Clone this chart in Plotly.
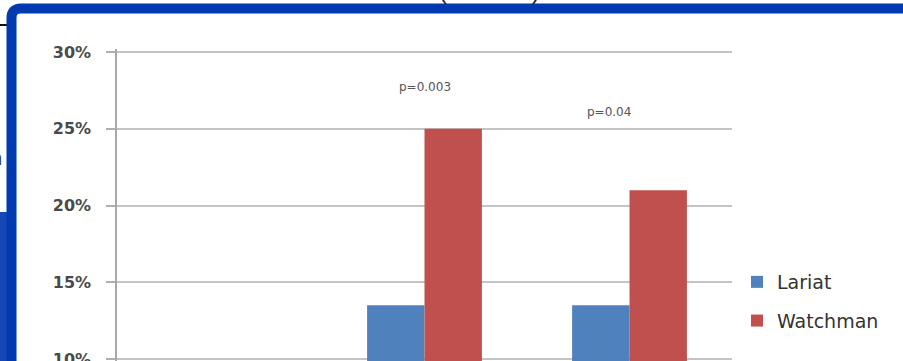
import plotly.graph_objects as go

# ---- data ----
categories = ["Category A", "Category B", "Category C"]
lariat = [None, 13.5, 13.5]
watchman = [None, 25.0, 21.0]
p_labels = ["p=0.003", "p=0.04"]
p_categories = ["Category B", "Category C"]
p_heights = [27.7, 26.1]
y_ticks = [10, 15, 20, 25, 30]
y_tick_text = ["10%", "15%", "20%", "25%", "30%"]

W, H = 903, 361
L, R, T, B = 117, 732, 49, 361
PX_PER_PCT = (359 - 52) / 20.0


def px(x):
    return (x - L) / (R - L)


def py(y):
    return (B - y) / (B - T)


fig = go.Figure()
fig.add_trace(go.Bar(name="Lariat", x=categories, y=lariat, marker_color="#4F81BD",
                     marker_line_width=0, legendgroup="a"))
fig.add_trace(go.Bar(name="Watchman", x=categories, y=watchman, marker_color="#C0504D",
                     marker_line_width=0, legendgroup="b"))

font_family = "DejaVu Sans"

annotations = []
shifts = [0, -21]
for lab, cat, h, s in zip(p_labels, p_categories, p_heights, shifts):
    annotations.append(dict(x=cat, y=h, xref="x", yref="y", text=lab, showarrow=False,
                            xshift=s, font=dict(family=font_family, size=12, color="#555555")))

# slide title fragment (mostly outside the window)
annotations.append(dict(x=px(490), y=py(6), xref="paper", yref="paper", text="(N = 279)",
                        showarrow=False, yanchor="bottom", font=dict(family="Liberation Sans", size=24, color="#222222")))
# slide text fragment on the left
annotations.append(dict(x=px(4), y=py(158), xref="paper", yref="paper", text="n",
                        showarrow=False, xanchor="right", font=dict(family="Liberation Sans", size=20, color="#333333")))

shapes = [
    # slide background panel lower left
    dict(type="rect", xref="paper", yref="paper", x0=px(-5), x1=px(14), y0=py(370), y1=py(212),
         fillcolor="#1647B5", line_width=0, layer="above"),
    # black rule at top-left
    dict(type="line", xref="paper", yref="paper", x0=px(-2), x1=px(8), y0=py(25), y1=py(25),
         line=dict(color="#111111", width=2), layer="above"),
    # blue frame
    dict(type="path", xref="paper", yref="paper",
         path=(f"M {px(11.5)},{py(380)} L {px(11.5)},{py(18)} "
               f"Q {px(11.5)},{py(8.5)} {px(21)},{py(8.5)} L {px(920)},{py(8.5)}"),
         line=dict(color="#0039B0", width=10), layer="above"),
]

y_lo = 10 - (B - 359) / PX_PER_PCT
y_hi = 30 + (52 - T) / PX_PER_PCT

fig.update_layout(
    width=W, height=H,
    margin=dict(l=L, r=W - R, t=T, b=0, autoexpand=False),
    paper_bgcolor="white", plot_bgcolor="white",
    barmode="group", bargap=0.44, bargroupgap=0,
    showlegend=True,
    legend=dict(x=px(737), y=py(263), xanchor="left", yanchor="top",
                font=dict(family=font_family, size=19, color="#333333"),
                tracegroupgap=11, bgcolor="rgba(0,0,0,0)"),
    xaxis=dict(showticklabels=False, ticks="", showgrid=False, zeroline=False, showline=False,
               automargin=False),
    yaxis=dict(range=[y_lo, y_hi], tickvals=y_ticks, ticktext=y_tick_text,
               showgrid=True, gridcolor="#C4C4C4", gridwidth=1.5,
               ticks="outside", ticklen=9, tickcolor="#B0B0B0", tickwidth=1.5,
               showline=True, linecolor="#A8A8A8", linewidth=1.5,
               zeroline=False, ticklabelstandoff=12, ticklabeloverflow="allow",
               automargin=False,
               tickfont=dict(family=font_family, size=16, color="#4A4A4A", weight="bold")),
    annotations=annotations,
    shapes=shapes,
)

fig.write_html("out.html")
